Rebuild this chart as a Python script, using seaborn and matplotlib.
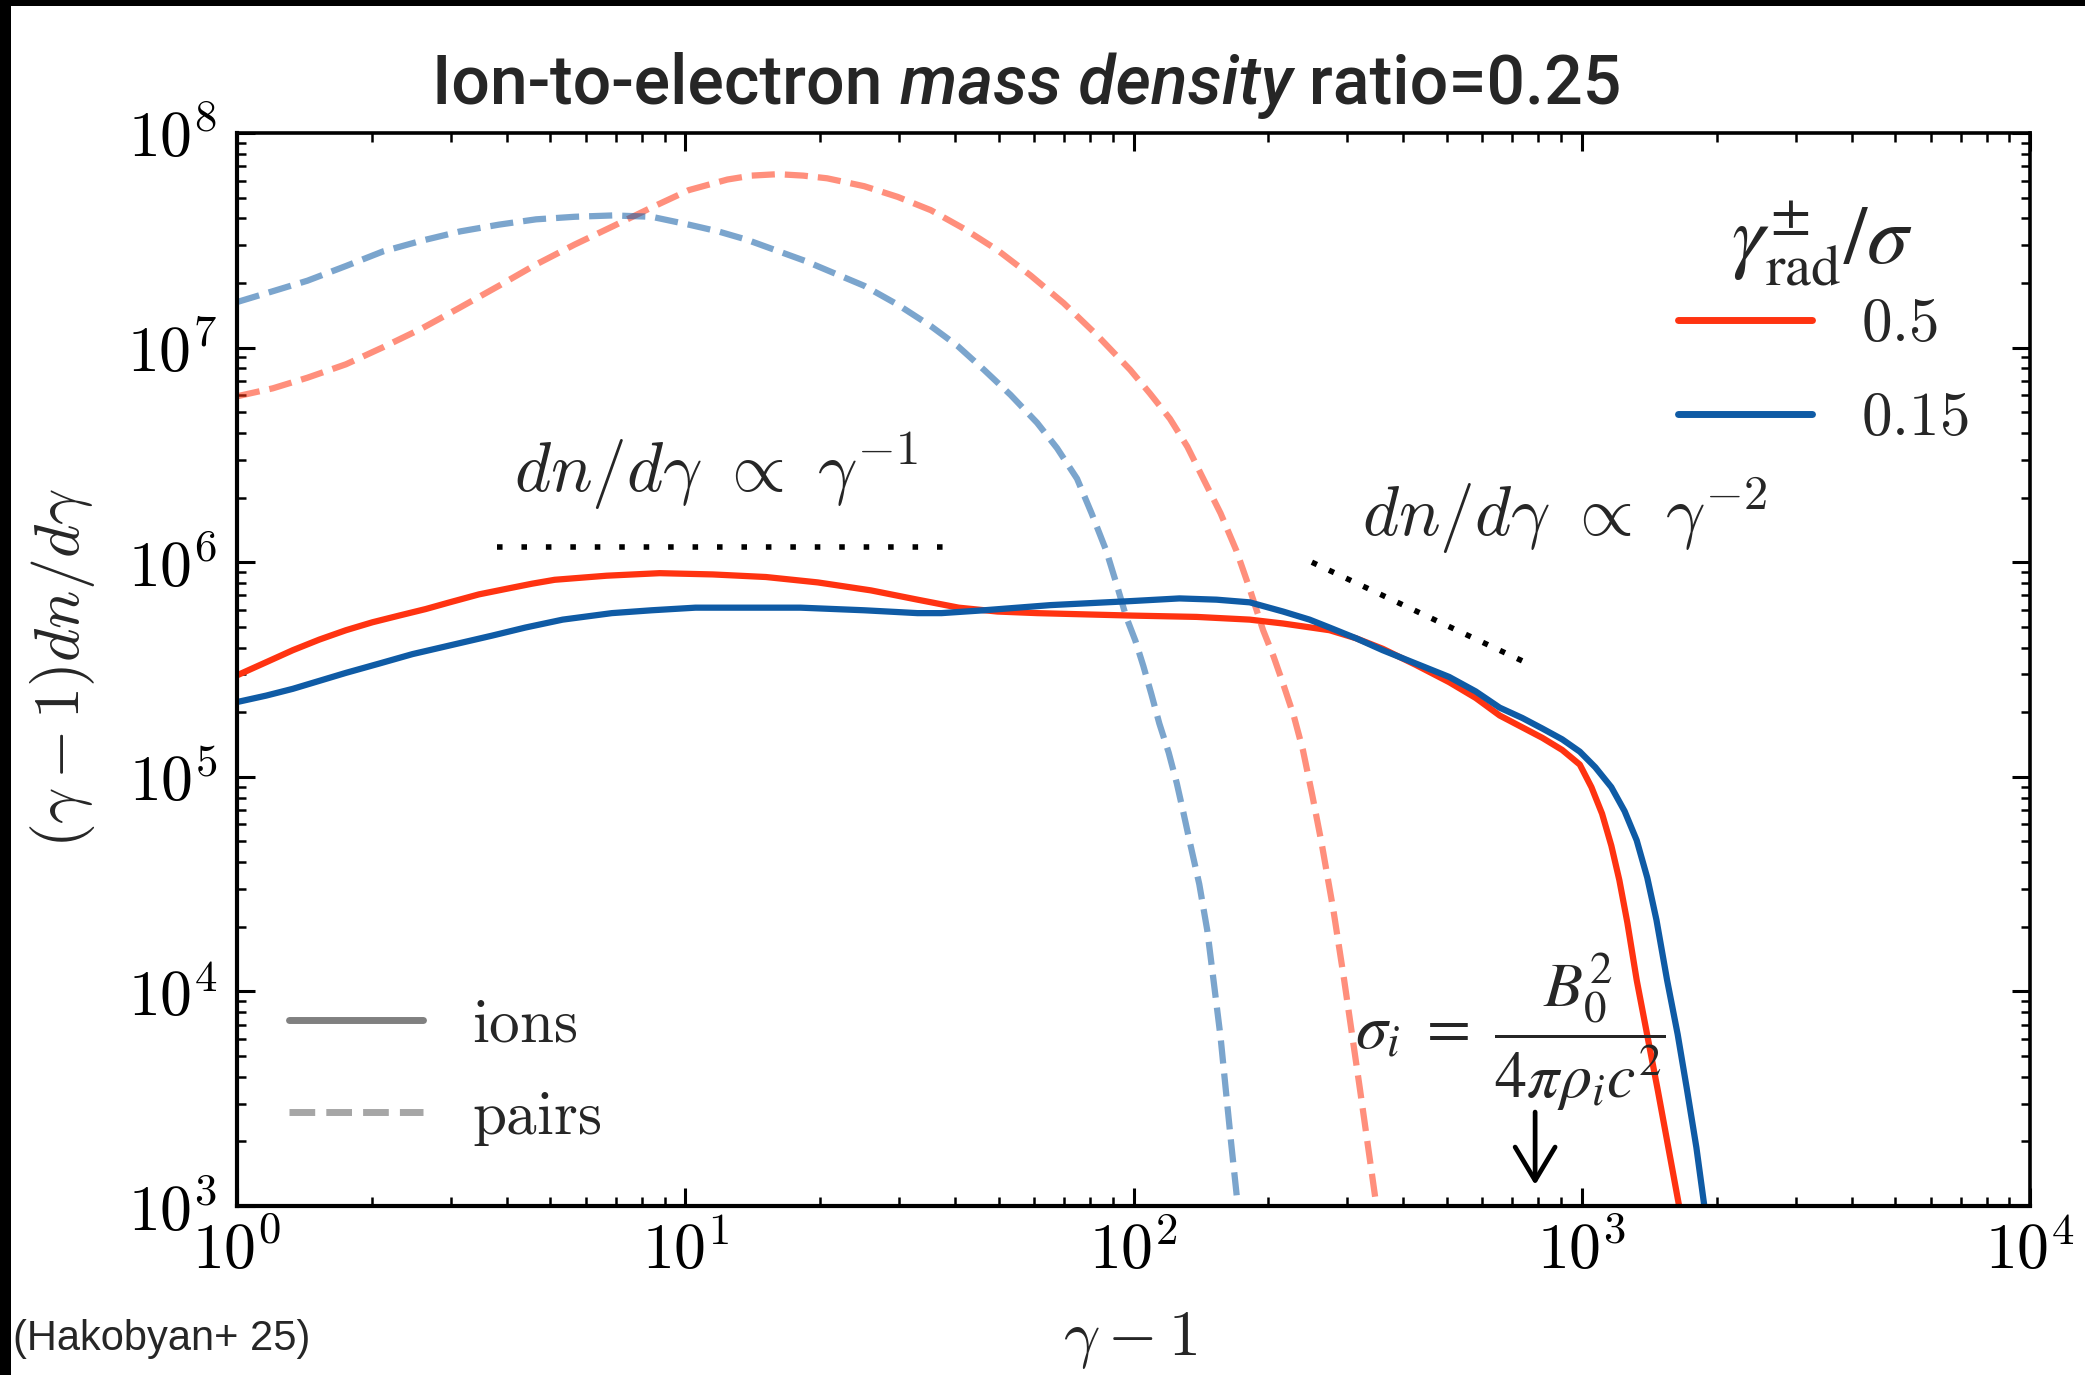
import numpy as np
import pandas as pd
import seaborn as sns
import matplotlib
matplotlib.use("Agg")
import matplotlib.pyplot as plt
from matplotlib.lines import Line2D
from matplotlib.patches import Rectangle
from matplotlib.ticker import LogLocator, FuncFormatter, NullFormatter

# ---------------- data: (gamma - 1) dn/dgamma spectra ----------------
# ions, gamma_rad/sigma = 0.5
ions_05_x = [1.0, 1.162, 1.332, 1.527, 1.750, 2.006, 2.300, 2.637, 2.981, 3.465,
             3.971, 4.552, 5.113, 6.673, 8.769, 11.52, 15.14, 19.76, 25.96, 32.97,
             40.74, 49.68, 60.96, 99.0, 138.3, 181.7, 215.6, 273.8, 313.8, 359.7,
             426.7, 506.1, 580.0, 656.1, 736.8, 816.2, 904.4, 990.0, 1051, 1110,
             1164, 1213, 1264, 1326, 1478, 1649]
ions_05_y = [2.97e5, 3.42e5, 3.89e5, 4.36e5, 4.82e5, 5.25e5, 5.64e5, 6.05e5, 6.50e5, 7.08e5,
             7.50e5, 7.94e5, 8.28e5, 8.65e5, 8.89e5, 8.77e5, 8.53e5, 8.05e5, 7.39e5, 6.69e5,
             6.14e5, 5.89e5, 5.79e5, 5.64e5, 5.56e5, 5.40e5, 5.18e5, 4.82e5, 4.42e5, 3.95e5,
             3.32e5, 2.76e5, 2.33e5, 1.93e5, 1.70e5, 1.52e5, 1.334e5, 1.14e5, 8.95e4, 6.73e4,
             4.78e4, 3.30e4, 2.09e4, 1.13e4, 3.46e3, 1.0e3]

# ions, gamma_rad/sigma = 0.15
ions_015_x = [1.0, 1.162, 1.332, 1.527, 1.750, 2.076, 2.463, 3.023, 3.710, 4.399,
              5.328, 6.859, 8.418, 10.54, 13.67, 18.08, 25.08, 32.97, 37.29, 46.39,
              65.27, 99.0, 126.6, 153.2, 181.7, 215.6, 247.1, 273.8, 313.8, 359.7,
              426.7, 506.1, 580.0, 656.1, 736.8, 816.2, 904.4, 990.0, 1072, 1164,
              1246, 1326, 1400, 1468, 1550, 1637, 1718, 1802, 1877]
ions_015_y = [2.23e5, 2.39e5, 2.57e5, 2.80e5, 3.05e5, 3.37e5, 3.73e5, 4.12e5, 4.55e5, 4.96e5,
              5.40e5, 5.79e5, 5.97e5, 6.14e5, 6.14e5, 6.14e5, 5.97e5, 5.79e5, 5.79e5, 5.97e5,
              6.31e5, 6.59e5, 6.78e5, 6.69e5, 6.50e5, 5.89e5, 5.40e5, 4.96e5, 4.42e5, 3.89e5,
              3.37e5, 2.92e5, 2.50e5, 2.10e5, 1.88e5, 1.68e5, 1.495e5, 1.31e5, 1.108e5, 8.95e4,
              6.92e4, 5.06e4, 3.39e4, 2.15e4, 1.13e4, 6.30e3, 3.46e3, 1.873e3, 1.0e3]

# pairs, gamma_rad/sigma = 0.5
pairs_05_x = [1.0, 1.202, 1.436, 1.750, 2.120, 2.584, 3.149, 3.838, 4.647, 5.664,
              6.904, 8.418, 10.19, 12.42, 14.05, 16.10, 18.33, 20.73, 25.08, 29.77,
              35.30, 41.88, 49.68, 58.92, 69.88, 82.87, 98.3, 108.9, 120.6, 131.9,
              143.1, 156.4, 169.7, 181.7, 194.6, 205.5, 215.6, 227.7, 238.8, 250.5,
              262.8, 279.4, 295.1, 320.3, 347.6]
pairs_05_y = [5.93e6, 6.46e6, 7.24e6, 8.36e6, 1.005e7, 1.228e7, 1.54e7, 1.94e7, 2.44e7, 3.02e7,
              3.68e7, 4.50e7, 5.42e7, 6.07e7, 6.33e7, 6.43e7, 6.33e7, 6.15e7, 5.65e7, 5.04e7,
              4.37e7, 3.58e7, 2.85e7, 2.17e7, 1.61e7, 1.144e7, 7.88e6, 6.10e6, 4.66e6, 3.45e6,
              2.45e6, 1.69e6, 1.13e6, 7.50e5, 4.82e5, 3.62e5, 2.72e5, 1.93e5, 1.33e5, 8.21e4,
              4.91e4, 2.37e4, 1.13e4, 3.46e3, 1.03e3]

# pairs, gamma_rad/sigma = 0.15
pairs_015_x = [1.0, 1.202, 1.436, 1.750, 2.120, 2.584, 3.149, 3.838, 4.647, 5.664,
               6.904, 8.418, 10.19, 11.84, 13.67, 18.46, 25.08, 29.77, 35.30, 40.47,
               46.39, 53.18, 60.96, 67.52, 74.82, 80.63, 86.96, 91.82, 96.32, 101.0,
               105.2, 109.6, 114.2, 119.8, 124.9, 129.2, 133.7, 140.2, 146.1, 151.2,
               156.4, 160.7, 165.2, 170.9]
pairs_015_y = [1.63e7, 1.831e7, 2.05e7, 2.40e7, 2.81e7, 3.15e7, 3.48e7, 3.74e7, 3.96e7, 4.07e7,
               4.13e7, 4.07e7, 3.74e7, 3.48e7, 3.19e7, 2.54e7, 1.94e7, 1.587e7, 1.26e7, 1.02e7,
               7.88e6, 6.02e6, 4.46e6, 3.40e6, 2.45e6, 1.69e6, 1.13e6, 7.81e5, 5.56e5, 4.30e5,
               3.28e5, 2.43e5, 1.77e5, 1.297e5, 9.33e4, 6.82e4, 4.91e4, 3.16e4, 1.92e4, 1.083e4,
               6.12e3, 3.46e3, 1.95e3, 1.0e3]

# power-law guides
guide_flat_x = [3.80, 40.0]
guide_flat_y = [1.18e6, 1.18e6]
guide_steep_x = [250.0, 775.0]
guide_steep_y = [1.0e6, 3.3e5]

# sigma_i marker
sigma_i_x = 787.0
sigma_i_arrow_y = [2740.0, 1253.0]

rad_labels = ["0.5", "0.15"]
species_labels = ["ions", "pairs"]

RED = "#ff3311"
BLUE = "#0f5ba5"

# ---------------- style ----------------
sns.set_theme(style="ticks")
plt.rcParams["font.family"] = ["DejaVu Sans"]
plt.rcParams["mathtext.fontset"] = "cm"
plt.rcParams["axes.edgecolor"] = "black"
plt.rcParams["axes.linewidth"] = 2.6

W, H = 2085, 1375
fig = plt.figure(figsize=(W / 100, H / 100), dpi=100)
fig.patch.set_facecolor("white")
ax = fig.add_axes([237 / W, 1 - 1206 / H, (2030 - 237) / W, (1206 - 133) / H])

frames = []
for name, xs, ys in [("pairs_05", pairs_05_x, pairs_05_y),
                     ("pairs_015", pairs_015_x, pairs_015_y),
                     ("ions_05", ions_05_x, ions_05_y),
                     ("ions_015", ions_015_x, ions_015_y)]:
    frames.append(pd.DataFrame({"gamma": xs, "spec": ys, "series": name}))
df = pd.concat(frames, ignore_index=True)

LW = 4.5
styles = {
    "pairs_05": dict(color=RED, alpha=0.55, linestyle="--"),
    "pairs_015": dict(color=BLUE, alpha=0.55, linestyle="--"),
    "ions_05": dict(color=RED, alpha=1.0, linestyle="-"),
    "ions_015": dict(color=BLUE, alpha=1.0, linestyle="-"),
}
for name, kw in styles.items():
    sub = df[df["series"] == name]
    sns.lineplot(data=sub, x="gamma", y="spec", ax=ax, lw=LW, sort=False,
                 estimator=None, legend=False, **kw)

ax.set_xscale("log")
ax.set_yscale("log")
ax.set_xlim(1, 1e4)
ax.set_ylim(1e3, 1e8)

# guides
ax.plot(guide_flat_x, guide_flat_y, color="black", lw=4.0, linestyle=(0, (1, 3.4)))
ax.plot(guide_steep_x, guide_steep_y, color="black", lw=4.0, linestyle=(0, (1, 2.4)))

ax.text(11.7, 2.66e6, r"$dn/d\gamma\ \propto\ \gamma^{-1}$", fontsize=50,
        ha="center", va="center")
ax.text(918, 1.64e6, r"$dn/d\gamma\ \propto\ \gamma^{-2}$", fontsize=50,
        ha="center", va="center")

ax.text(695, 6.5e3, r"$\sigma_i\ =\ \dfrac{B_0^2}{4\pi\rho_i c^2}$", fontsize=46,
        ha="center", va="center", math_fontfamily="stix")
ax.annotate("", xy=(sigma_i_x, sigma_i_arrow_y[1]), xytext=(sigma_i_x, sigma_i_arrow_y[0]),
            arrowprops=dict(arrowstyle="->,head_length=0.75,head_width=0.45",
                            lw=3.4, color="black", mutation_scale=32,
                            shrinkA=0, shrinkB=0))

# ticks
def pow10(v, pos):
    return r"$10^{%d}$" % int(round(np.log10(v)))

for axis in (ax.xaxis, ax.yaxis):
    axis.set_major_locator(LogLocator(base=10, numticks=20))
    axis.set_minor_locator(LogLocator(base=10, subs=np.arange(2, 10), numticks=50))
    axis.set_major_formatter(FuncFormatter(pow10))
    axis.set_minor_formatter(NullFormatter())

ax.tick_params(which="both", direction="in", top=True, right=True, colors="black")
ax.tick_params(which="major", length=13, width=2.2, labelsize=46)
ax.tick_params(axis="y", which="major", pad=14)
ax.tick_params(axis="x", which="major", pad=10)
ax.tick_params(which="minor", length=6.5, width=1.8)
for s in ax.spines.values():
    s.set_color("black")
    s.set_linewidth(2.6)
ax.spines["left"].set_linewidth(3.0)
ax.spines["bottom"].set_linewidth(3.0)

ax.set_xlabel(r"$\gamma - 1$", fontsize=46)
ax.xaxis.set_label_coords(0.498, -0.096)
ax.set_ylabel(r"$(\gamma - 1)dn/d\gamma$", fontsize=46)
ax.yaxis.set_label_coords(-0.078, 0.501)

# legends
rad_handles = [Line2D([0], [0], color=RED, lw=5.0), Line2D([0], [0], color=BLUE, lw=5.0)]
leg1 = ax.legend(rad_handles, [r"$%s$" % s for s in rad_labels],
                 loc="upper left", bbox_to_anchor=(1678 / W, 1 - 295 / H),
                 bbox_transform=fig.transFigure, frameon=False, fontsize=44,
                 handlelength=2.2, handletextpad=0.8,
                 labelspacing=0.58, borderpad=0, borderaxespad=0)
ax.add_artist(leg1)
fig.text(1822 / W, 1 - 244 / H, r"$\gamma_{\mathrm{rad}}^{\pm}/\sigma$", fontsize=60,
         ha="center", va="center", math_fontfamily="stix")

sp_handles = [Line2D([0], [0], color="#808080", lw=5.0),
              Line2D([0], [0], color="#a6a6a6", lw=5.0, linestyle="--")]
leg2 = ax.legend(sp_handles, [r"$\mathrm{%s}$" % s for s in species_labels],
                 loc="upper left", bbox_to_anchor=(289 / W, 1 - 995 / H),
                 bbox_transform=fig.transFigure, frameon=False, fontsize=44,
                 handlelength=2.2, handletextpad=0.8, labelspacing=0.55,
                 borderpad=0, borderaxespad=0)

# title built from upright / italic pieces
renderer = fig.canvas.get_renderer()
parts = [("Ion-to-electron ", "normal"), ("mass density", "italic"), (" ratio=0.25", "normal")]
tobjs = []
widths = []
for s, st in parts:
    t = fig.text(0, 1 - 104 / H, s, fontsize=49, fontstyle=st, fontweight="medium",
                 family=["Roboto", "DejaVu Sans"], va="baseline", ha="left")
    tobjs.append(t)
    widths.append(t.get_window_extent(renderer).width)
x0 = 1027 - sum(widths) / 2
for t, w in zip(tobjs, widths):
    t.set_x(x0 / W)
    x0 += w

fig.text(13 / W, 1 - 1350 / H, "(Hakobyan+ 25)", fontsize=30,
         family=["Liberation Sans", "DejaVu Sans"], va="baseline", ha="left")

# dark frame strips along the top and left edges
fig.patches.append(Rectangle((0, 0), 11 / W, 1, transform=fig.transFigure,
                             facecolor="black", edgecolor="none", zorder=10))
fig.patches.append(Rectangle((0, 1 - 6 / H), 1, 6 / H, transform=fig.transFigure,
                             facecolor="black", edgecolor="none", zorder=10))

fig.savefig("out.png", dpi=100, facecolor="white")
